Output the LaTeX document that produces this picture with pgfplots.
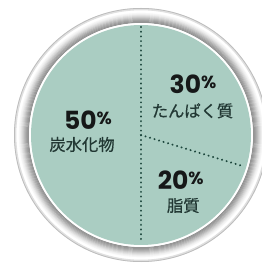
\documentclass[border=0pt]{standalone}
\usepackage{pgfplots}
\pgfplotsset{compat=1.18}
\usepackage{fontspec}
\newfontfamily\pop{Poppins}
\newfontfamily\jp[FakeBold=0.6]{Noto Sans CJK JP}
\definecolor{piefill}{RGB}{170,205,194}
\definecolor{dotc}{RGB}{28,70,60}
\definecolor{numc}{RGB}{22,24,24}
\definecolor{jpc}{RGB}{34,56,52}
\newcommand{\pct}[1]{{\pop\bfseries\fontsize{25bp}{25bp}\selectfont #1\raisebox{5.2bp}{\fontsize{17.5bp}{17.5bp}\selectfont\%}}}
\newcommand{\jpl}[1]{{\jp\fontsize{16.3bp}{16.3bp}\selectfont #1}}
\begin{document}
\begin{tikzpicture}
\useasboundingbox (0,0) rectangle (262bp,263bp);
\fill[white] (0,0) rectangle (262bp,263bp);
% outer ring (decoration)
\coordinate (c) at (141bp,128bp);
\fill[white] (c) circle (127bp);
\draw[black!12, line width=2.2bp] (c) circle (125.8bp);
\draw[black!26, line width=0.8bp] (c) circle (126.6bp);
\begin{scope}[shift={(0.9bp,-1.4bp)}]
\foreach \r/\g in {121.5/3,120.5/6,119.5/10,118.5/15,117.5/20,116.5/26,115.5/31,114.5/36,113.5/40,112.6/42}
  \draw[black!\g, line width=1.15bp] (c) circle (\r bp);
\end{scope}
\draw[white, line width=1.8bp] (c) circle (111bp);
\begin{axis}[
  at={(0,0)}, anchor=south west,
  width=262bp, height=263bp, scale only axis,
  xmin=-141, xmax=121, ymin=-128, ymax=135,
  hide axis, clip=false,
]
% pie body (all three slices share the same colour)
\fill[piefill] (axis cs:0,0) circle[radius=110];
% slice boundaries: shares 50 / 30 / 20 %, starting at 90 deg, clockwise 3.6 deg per %
\addplot[dotc, line width=2.2bp, line cap=round, dash pattern=on 0.01bp off 4.7bp, data cs=polar, mark=none]
  coordinates {(90,108) (90,0) (-90,108)};
\addplot[dotc, line width=2.2bp, line cap=round, dash pattern=on 0.01bp off 4.7bp, data cs=polar, mark=none]
  coordinates {(-17,0) (-17,108)};
% labels
\node[anchor=base, inner sep=0, text=numc] at (axis cs:-53,5.7) {\pct{50}};
\node[anchor=center, inner sep=0, text=jpc] at (axis cs:-59,-9.5) {\jpl{炭水化物}};
\node[anchor=base, inner sep=0, text=numc] at (axis cs:52,41.7) {\pct{30}};
\node[anchor=center, inner sep=0, text=jpc] at (axis cs:51.5,24.2) {\jpl{たんぱく質}};
\node[anchor=base, inner sep=0, text=numc] at (axis cs:39.8,-54.3) {\pct{20}};
\node[anchor=center, inner sep=0, text=jpc] at (axis cs:42.3,-70.5) {\jpl{脂質}};
\end{axis}
\end{tikzpicture}
\end{document}
